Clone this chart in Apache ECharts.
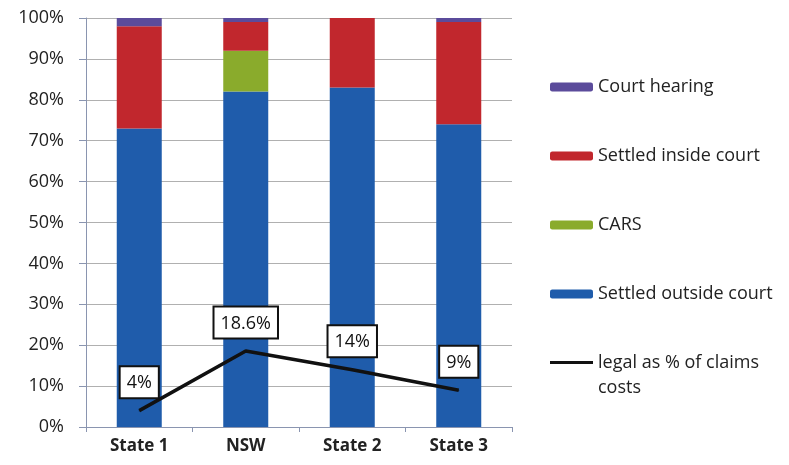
<!DOCTYPE html>
<html>
<head>
<meta charset="utf-8">
<script src="https://cdn.jsdelivr.net/npm/echarts@6/dist/echarts.min.js"></script>
<style>
  html, body { margin: 0; padding: 0; background: #fff; }
  #chart { width: 789px; height: 465px; }
</style>
</head>
<body>
<div id="chart"></div>
<script>
// Outcome mix of claims by jurisdiction (percent of claims)
const categories = ['State 1', 'NSW', 'State 2', 'State 3'];
const settledOutside = [73, 82, 83, 74];
const cars = [0, 10, 0, 0];
const settledInside = [25, 7, 17, 25];
const courtHearing = [2, 1, 0, 1];
// Legal costs as a share of claims costs (percent)
const legalShare = [4, 18.6, 14, 9];
const yTicks = [0, 10, 20, 30, 40, 50, 60, 70, 80, 90, 100];

const FONT = '"Open Sans", "Liberation Sans", sans-serif';
const LINE_NAME = 'legal as % of claims\ncosts';
const chart = echarts.init(document.getElementById('chart'));

const barSeries = (name, data, color) => ({
  name, type: 'bar', stack: 'mix', data, barWidth: 45,
  itemStyle: { color }, emphasis: { disabled: true }
});

chart.setOption({
  animation: false,
  grid: { left: 86, right: 277, top: 18, bottom: 38 },
  legend: [
    {
      orient: 'vertical', left: 545, top: 73, itemGap: 51,
      itemWidth: 43, itemHeight: 9,
      textStyle: { fontFamily: FONT, fontSize: 18, color: '#222' },
      data: ['Court hearing', 'Settled inside court', 'CARS', 'Settled outside court']
    },
    {
      // two-line entry for the line series; the swatch sits level with the first line
      orient: 'vertical', left: 545, top: 345,
      itemWidth: 43, itemHeight: 50,
      textStyle: { fontFamily: FONT, fontSize: 18, color: '#222', lineHeight: 25 },
      data: [{
        name: LINE_NAME,
        icon: 'path://M0,0 M0,11 L43,11 L43,14 L0,14 Z M43,50',
        itemStyle: { color: '#111' }
      }]
    }
  ],
  xAxis: {
    type: 'category', data: categories,
    axisLine: { lineStyle: { color: '#8a95b0' } },
    axisTick: { show: true, length: 5, lineStyle: { color: '#8a95b0' } },
    axisLabel: { fontFamily: FONT, fontSize: 17, fontWeight: 'bold', color: '#222', margin: 11 }
  },
  yAxis: {
    type: 'value', min: yTicks[0], max: yTicks[yTicks.length - 1], interval: 10,
    axisLine: { show: true, lineStyle: { color: '#8a95b0' } },
    axisTick: { show: true, length: 7, lineStyle: { color: '#8a95b0' } },
    splitLine: { lineStyle: { color: '#b0b0b0' } },
    axisLabel: { fontFamily: FONT, fontSize: 18, color: '#222', margin: 22, formatter: '{value}%' }
  },
  series: [
    barSeries('Settled outside court', settledOutside, '#1f5cab'),
    barSeries('CARS', cars, '#8aab2c'),
    barSeries('Settled inside court', settledInside, '#c1272d'),
    barSeries('Court hearing', courtHearing, '#5b4b9b'),
    {
      name: LINE_NAME, type: 'line', data: legalShare,
      symbol: 'circle', symbolSize: 1, showSymbol: true,
      lineStyle: { color: '#111', width: 3.5 },
      itemStyle: { color: '#111' },
      emphasis: { disabled: true },
      label: {
        show: true, position: 'top', distance: 13,
        formatter: p => p.value + '%',
        fontFamily: FONT, fontSize: 18, color: '#111',
        backgroundColor: '#fff', borderColor: '#111', borderWidth: 2,
        padding: [7, 6, 5, 6]
      },
      z: 5
    }
  ]
});
</script>
</body>
</html>
